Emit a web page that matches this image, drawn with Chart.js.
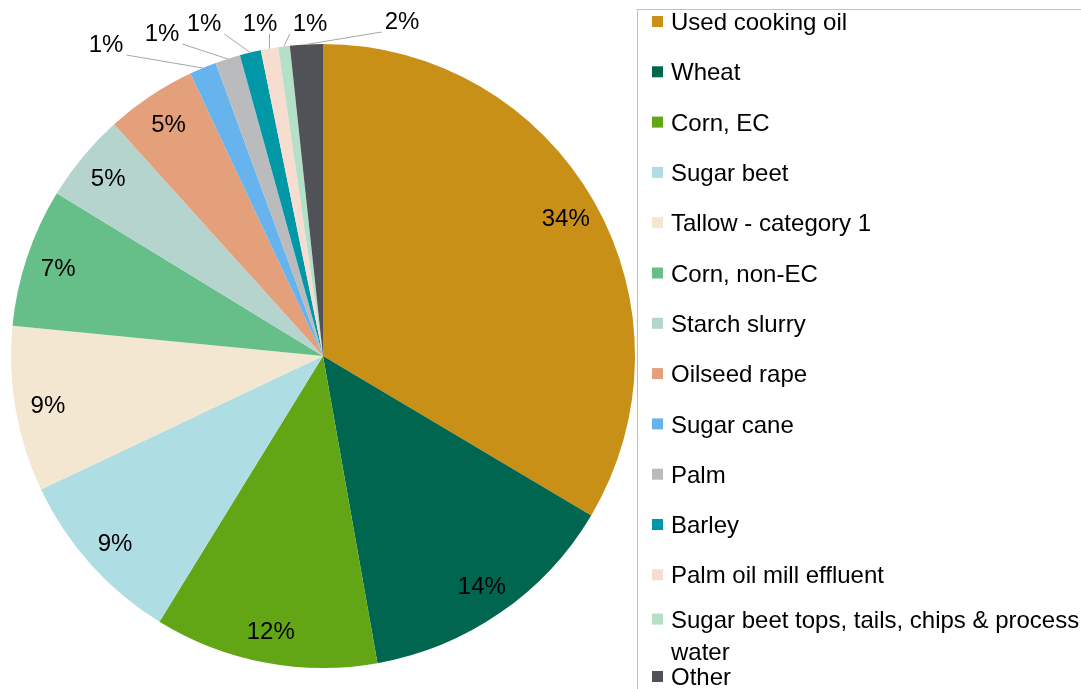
<!DOCTYPE html>
<html>
<head>
<meta charset="utf-8">
<script src="https://cdn.jsdelivr.net/npm/chart.js@4/dist/chart.umd.min.js"></script>
<style>
  html, body { margin: 0; padding: 0; background: #ffffff; }
  #wrap { width: 1081px; height: 689px; position: relative; }
</style>
</head>
<body>
<div id="wrap"><canvas id="c" width="1081" height="689"></canvas></div>
<script>
// ---- Data ----
const categories = [
  "Used cooking oil", "Wheat", "Corn, EC", "Sugar beet", "Tallow - category 1",
  "Corn, non-EC", "Starch slurry", "Oilseed rape", "Sugar cane", "Palm", "Barley",
  "Palm oil mill effluent", "Sugar beet tops, tails, chips & process water", "Other"
];
const shares = [33.6, 13.7, 11.6, 9.2, 8.6, 7.2, 4.6, 4.7, 1.4, 1.3, 1.1, 0.9, 0.6, 1.7];
const colors = [
  "#C99017", "#00664F", "#63A615", "#AEDDE3", "#F3E7D1",
  "#66BF89", "#B5D4CE", "#E4A07A", "#66B3EE", "#B9BBBD",
  "#0097A7", "#F6DDD0", "#B3E0C6", "#505257"
];
// callout label centres for the small slices (text placement only)
const calloutPositions = {8: [106, 43], 9: [162, 32], 10: [204, 22], 11: [260, 22], 12: [310, 22], 13: [402, 20]};

const FONT = '"Liberation Sans", Arial, "DejaVu Sans", sans-serif';

const labelPlugin = {
  id: 'pctLabels',
  afterDatasetsDraw(chart) {
    const ctx = chart.ctx;
    const meta = chart.getDatasetMeta(0);
    const data = chart.data.datasets[0].data;
    const total = data.reduce((a, b) => a + b, 0);
    ctx.save();
    ctx.font = '24px ' + FONT;
    ctx.fillStyle = '#000000';
    ctx.textAlign = 'center';
    ctx.textBaseline = 'alphabetic';
    meta.data.forEach((arc, i) => {
      const p = arc.getProps(['x', 'y', 'startAngle', 'endAngle', 'outerRadius'], true);
      const mid = (p.startAngle + p.endAngle) / 2;
      const txt = Math.round(data[i] / total * 100) + '%';
      if (calloutPositions[i]) {
        const [lx, ly] = calloutPositions[i];
        const ex = p.x + Math.cos(mid) * p.outerRadius;
        const ey = p.y + Math.sin(mid) * p.outerRadius;
        const w = ctx.measureText(txt).width;
        const hw = w / 2 + 3, hh = 12;
        let sx = Math.min(Math.max(ex, lx - hw), lx + hw);
        let sy = Math.min(Math.max(ey, ly - hh), ly + hh);
        ctx.strokeStyle = '#A6A6A6';
        ctx.lineWidth = 1;
        ctx.beginPath();
        ctx.moveTo(sx, sy);
        ctx.lineTo(ex, ey);
        ctx.stroke();
        ctx.fillText(txt, lx, ly + 8.6);
      } else {
        const r = p.outerRadius * 0.895;
        const cx = p.x + Math.cos(mid) * r;
        const cy = p.y + Math.sin(mid) * r;
        ctx.fillText(txt, cx, cy + 8.6);
      }
    });
    ctx.restore();
  }
};

const legendPlugin = {
  id: 'sideLegend',
  afterDraw(chart) {
    const ctx = chart.ctx;
    ctx.save();
    // border
    ctx.strokeStyle = '#BFBFBF';
    ctx.lineWidth = 1;
    ctx.beginPath();
    ctx.moveTo(1090, 9.5);
    ctx.lineTo(637.5, 9.5);
    ctx.lineTo(637.5, 700);
    ctx.stroke();
    ctx.font = '24px ' + FONT;
    ctx.textAlign = 'left';
    ctx.textBaseline = 'alphabetic';
    const maxW = 412;
    const step = 50.3;
    const lineH = 32;
    // wrap all entries first
    const wrapped = categories.map(name => {
      const words = name.split(' ');
      const lines = [];
      let cur = '';
      words.forEach(wd => {
        const t = cur ? cur + ' ' + wd : wd;
        if (ctx.measureText(t).width > maxW && cur) { lines.push(cur); cur = wd; }
        else cur = t;
      });
      lines.push(cur);
      return lines;
    });
    let y = 21.5;
    wrapped.forEach((lines, i) => {
      let cy = y;
      if (lines.length > 1) cy = y - 6;           // multi-line entries are pulled up
      if (i === wrapped.length - 1) cy = Math.min(y, 676.5);
      ctx.fillStyle = colors[i];
      ctx.fillRect(652, cy - 5.5, 11, 11);
      ctx.fillStyle = '#000000';
      lines.forEach((ln, k) => ctx.fillText(ln, 671, cy + 8.6 + k * lineH));
      y = cy + step + (lines.length - 1) * lineH;
    });
    ctx.restore();
  }
};

new Chart(document.getElementById('c'), {
  type: 'pie',
  data: {
    labels: categories,
    datasets: [{
      data: shares,
      backgroundColor: colors,
      borderWidth: 0
    }]
  },
  options: {
    responsive: false,
    animation: false,
    devicePixelRatio: 1,
    layout: { padding: { left: 11, top: 44, right: 446, bottom: 21 } },
    plugins: {
      legend: { display: false },
      tooltip: { enabled: false },
      title: { display: false }
    }
  },
  plugins: [labelPlugin, legendPlugin]
});
</script>
</body>
</html>
